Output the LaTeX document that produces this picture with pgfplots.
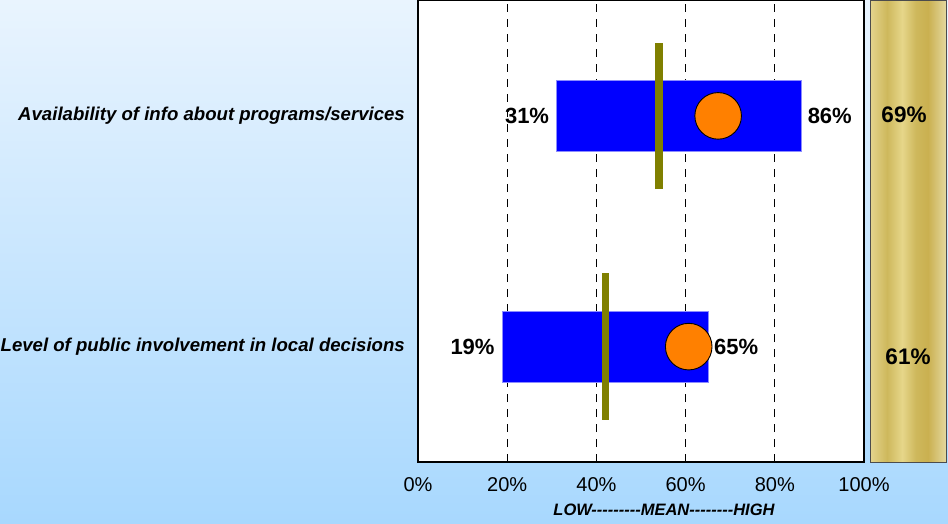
\documentclass[border=0pt]{standalone}
\usepackage{pgfplots}
\pgfplotsset{compat=1.18}
\usepackage{fontspec}
\setmainfont{Liberation Sans}
\definecolor{bgtop}{RGB}{233,244,254}
\definecolor{bgbot}{RGB}{168,216,254}
\definecolor{barblue}{RGB}{0,0,255}
\definecolor{meanol}{RGB}{128,128,0}
\definecolor{dotor}{RGB}{255,128,0}
\definecolor{gA}{RGB}{228,212,140}
\definecolor{gB}{RGB}{206,184,92}
\definecolor{gC}{RGB}{230,214,138}
\definecolor{gD}{RGB}{202,176,80}
\definecolor{gE}{RGB}{228,216,158}
\pgfdeclarehorizontalshading{gold}{100bp}{color(0bp)=(gA); color(25bp)=(gA); color(36bp)=(gB); color(46bp)=(gC); color(55bp)=(gB); color(63bp)=(gD); color(75bp)=(gE); color(100bp)=(gE)}
\begin{document}
\begin{tikzpicture}[x=1pt,y=1pt]
\shade[top color=bgtop, bottom color=bgbot] (0,0) rectangle (948,523);
\shade[shading=gold, draw=black!70, line width=0.8pt] (870.5,61) rectangle (946,522.5);
\begin{axis}[at={(418pt,61pt)}, anchor=south west, scale only axis,
  width=446pt, height=461.5pt,
  xmin=0, xmax=100, ymin=0, ymax=4,
  axis background/.style={fill=white},
  axis line style={line width=2pt, black},
  xtick={0,20,40,60,80,100},
  xticklabels={0\%,20\%,40\%,60\%,80\%,100\%},
  xmajorgrids, grid style={black, line width=0.9pt, dash pattern=on 8pt off 7pt},
  ytick={1,3},
  yticklabels={Level of public involvement in local decisions, Availability of info about programs/services},
  major tick length=0pt,
  xticklabel style={font=\fontsize{20}{22}\selectfont, anchor=center, yshift=-23pt},
  yticklabel style={font=\fontsize{18.6}{21}\selectfont\bfseries\itshape, anchor=east, inner sep=0pt, xshift=-13pt},
  clip=false]
\addplot[fill=barblue, draw=blue!45!white, line width=0.8pt] coordinates {(31,2.693) (86,2.693) (86,3.307) (31,3.307)} --cycle;
\addplot[fill=barblue, draw=blue!45!white, line width=0.8pt] coordinates {(19,0.693) (65,0.693) (65,1.307) (19,1.307)} --cycle;
\addplot[meanol, line width=7.5pt] coordinates {(54,2.365) (54,3.635)};
\addplot[meanol, line width=7.5pt] coordinates {(42,0.365) (42,1.635)};
\addplot[only marks, mark=*, mark size=23.3pt, mark options={fill=dotor, draw=black, line width=0.9pt}] coordinates {(67.3,3) (60.7,1)};
\node[anchor=east, inner sep=0pt, xshift=-7pt, font=\fontsize{22}{24}\selectfont\bfseries] at (axis cs:31,3) {31\%};
\node[anchor=west, inner sep=0pt, xshift=6pt, font=\fontsize{22}{24}\selectfont\bfseries] at (axis cs:86,3) {86\%};
\node[anchor=east, inner sep=0pt, xshift=-8pt, font=\fontsize{22}{24}\selectfont\bfseries] at (axis cs:19,1) {19\%};
\node[anchor=west, inner sep=0pt, xshift=6pt, font=\fontsize{22}{24}\selectfont\bfseries] at (axis cs:65,1) {65\%};
\end{axis}
\node[font=\fontsize{22.5}{24}\selectfont\bfseries] at (904,408) {69\%};
\node[font=\fontsize{22.5}{24}\selectfont\bfseries] at (908,166) {61\%};
\node[font=\fontsize{16.5}{18}\selectfont\bfseries\itshape] at (664,13) {LOW-{}-{}-{}-{}-{}-{}-{}-{}-MEAN-{}-{}-{}-{}-{}-{}-{}-HIGH};
\pgfresetboundingbox
\path[use as bounding box] (0,0) rectangle (948,523);
\end{tikzpicture}
\end{document}
